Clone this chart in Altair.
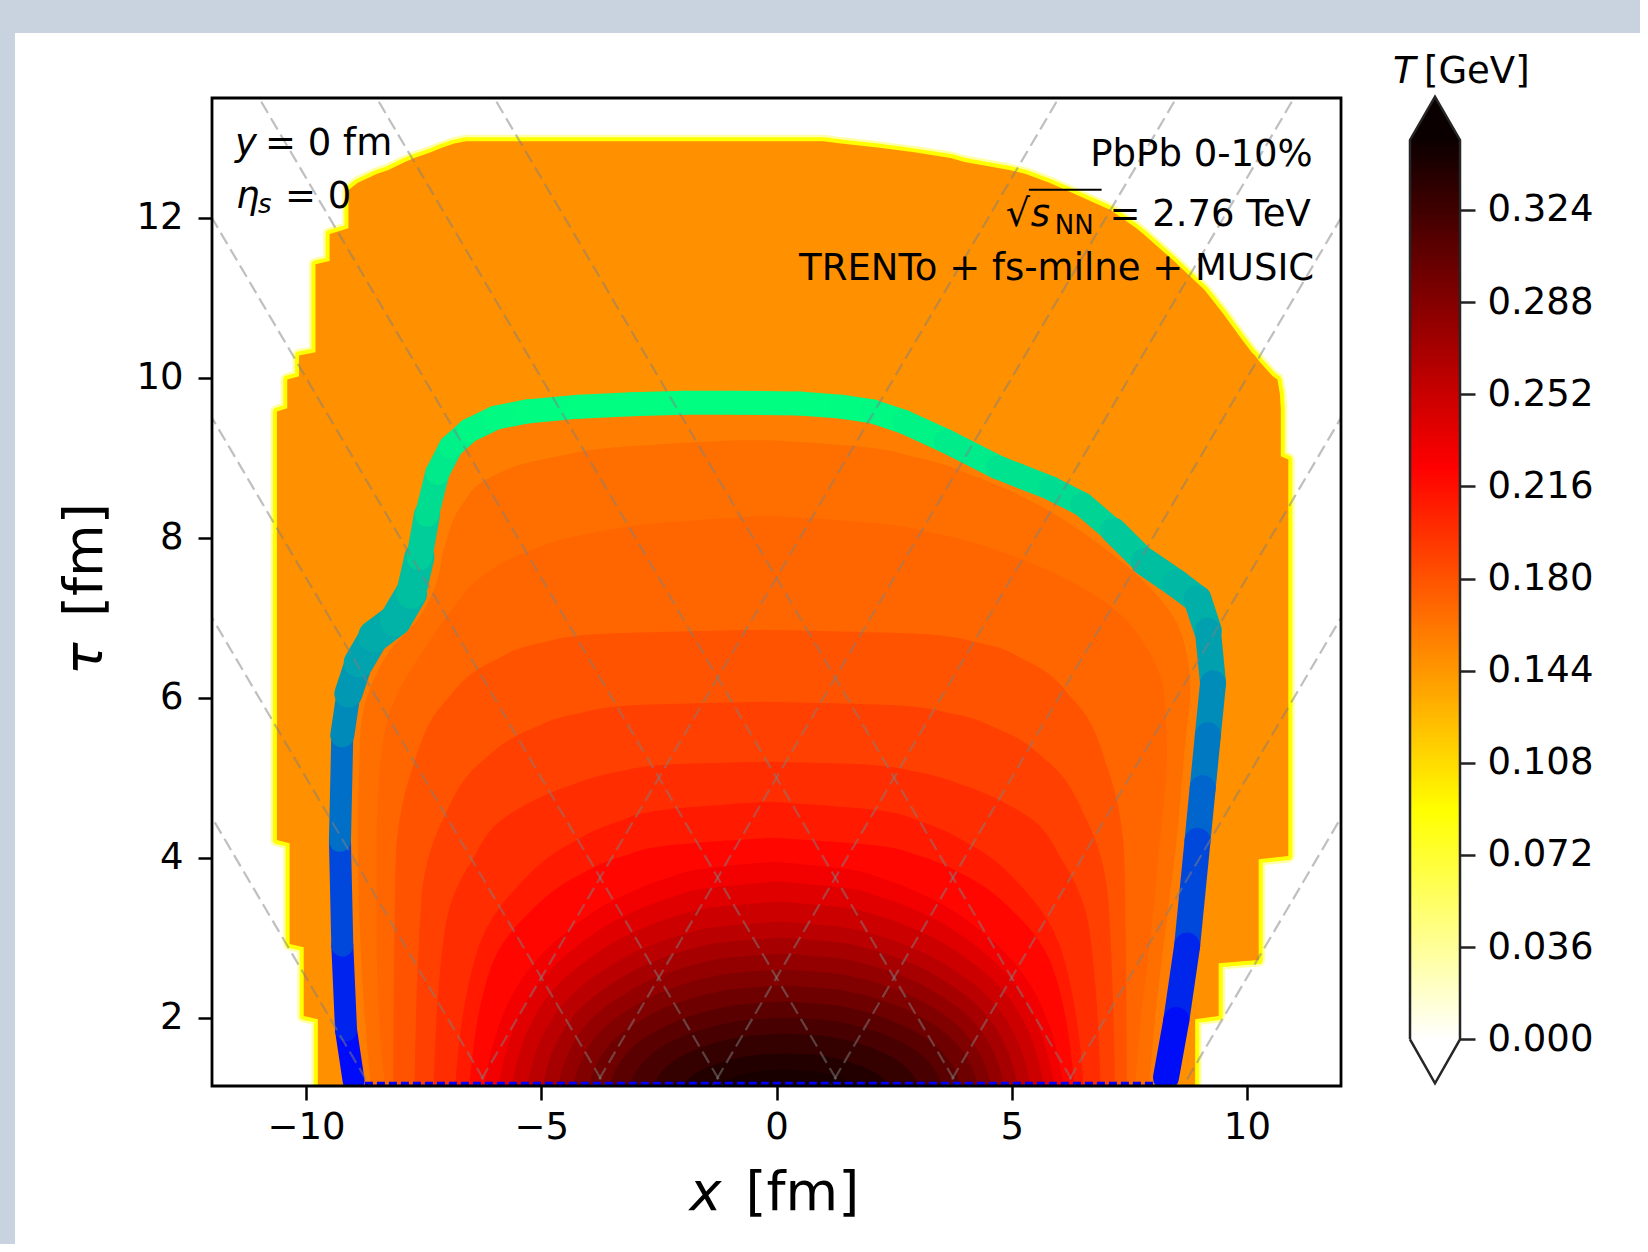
import altair as alt
import pandas as pd

FONT = "DejaVu Sans"

# ---------------- axes ----------------
X_RANGE = [-12.0, 12.0]
TAU_RANGE = [1.144, 13.5]
X_TICKS = [-10, -5, 0, 5, 10]
TAU_TICKS = [2, 4, 6, 8, 10, 12]
CB_TICKS = [0.000, 0.036, 0.072, 0.108, 0.144, 0.180, 0.216, 0.252, 0.288, 0.324]

# ---------------- colour maps ----------------
T_STOPS = [0.0, 0.0894, 0.2235, 0.352]          # hot_r, T in GeV
T_COLORS = ["#ffffff", "#ffff00", "#ff0000", "#0b0000"]
TAU_STOPS = [1.15, 9.7]                          # winter, surface coloured by tau
TAU_COLORS = ["#0000ff", "#00ff80"]
CB_TOP = 0.3513
CB_TIP_TOP = 0.3682
CB_TIP_BOTTOM = -0.0172
CB_RANGE = [-0.01824, 0.3677]

# ---------------- outer edge of the fluid (T ~ 0.148 GeV) ----------------
OUTER_T = 0.148
OUTER_TAU = [1.0, 1.98, 2.02, 2.68, 2.72, 2.88, 2.92, 3.98, 4.02, 4.18, 4.22, 8.98, 9.02,
             9.58, 9.62, 9.8, 9.98, 10.02, 10.2, 10.28, 10.32, 10.5, 10.8, 11.1, 11.42,
             11.46, 11.8, 11.87, 12.1, 12.35, 12.44, 12.55, 12.6, 12.7, 12.75, 12.82,
             12.88, 12.93, 12.96]
OUTER_XL = [-9.75, -9.75, -10.05, -10.05, -10.05, -10.05, -10.35, -10.35, -10.35, -10.35,
            -10.62, -10.62, -10.62, -10.62, -10.4, -10.4, -10.4, -10.15, -10.15, -10.15,
            -9.8, -9.8, -9.8, -9.8, -9.8, -9.5, -9.5, -9.1, -9.1, -9.1, -8.9, -8.5, -8.25,
            -7.9, -7.7, -7.35, -7.1, -6.85, -6.6]
OUTER_XR = [8.9, 8.9, 9.4, 9.4, 10.25, 10.25, 10.25, 10.25, 10.88, 10.88, 10.88, 10.88,
            10.72, 10.72, 10.72, 10.7, 10.65, 10.55, 10.27, 10.17, 10.1, 9.87, 9.5, 9.1,
            8.52, 8.45, 7.8, 7.65, 7.1, 6.15, 5.8, 5.3, 4.95, 4.0, 3.7, 2.93, 2.15, 1.37, 1.0]

# ---------------- isotherms following the freeze-out surface ----------------
ISO158_T = 0.158
ISO158_TAU = [1.0, 1.25, 1.9, 2.9, 4.2, 5.5, 6.05, 6.45, 6.8, 7.0, 7.25, 7.45, 7.7, 8.1,
              8.4, 8.62, 8.88, 9.15, 9.34, 9.45, 9.5, 9.58, 9.64, 9.67, 9.69]
ISO158_XL = [-8.98, -9.0, -9.15, -9.23, -9.28, -9.23, -9.1, -8.88, -8.5, -8.1, -7.8, -7.7,
             -7.6, -7.47, -7.38, -7.28, -7.12, -6.9, -6.54, -6.2, -5.98, -5.31, -4.2, -3.08,
             -1.97]
ISO158_XR = [8.26, 8.28, 8.45, 8.65, 8.9, 9.1, 9.22, 9.25, 9.17, 9.05, 8.9, 8.45, 7.83,
             7.16, 6.5, 5.83, 4.71, 3.75, 3.0, 2.71, 2.5, 2.04, 1.37, 0.9, 0.48]

ISO165_T = 0.165
ISO165_TAU = [1.0, 2.0, 3.0, 4.2, 5.5, 6.1, 6.6, 7.0, 7.4, 7.9, 8.4, 8.75, 9.0, 9.15, 9.22]
ISO165_XL = [-8.6, -8.75, -8.85, -8.9, -8.85, -8.65, -8.2, -7.6, -7.25, -7.05, -6.7, -6.1,
             -4.8, -3.0, -0.9]
ISO165_XR = [7.9, 8.05, 8.25, 8.5, 8.7, 8.8, 8.7, 8.45, 7.9, 6.9, 5.6, 4.3, 3.0, 1.6, -0.1]

ISO170_T = 0.170
ISO170_TAU = [1.0, 2.0, 3.0, 4.2, 5.3, 6.0, 6.6, 7.1, 7.5, 7.8, 8.05, 8.2, 8.27]
ISO170_XL = [-8.3, -8.45, -8.5, -8.5, -8.4, -8.1, -7.5, -6.9, -6.3, -5.4, -4.0, -2.2, -0.4]
ISO170_XR = [7.6, 7.75, 7.95, 8.15, 8.3, 8.25, 7.9, 7.2, 6.1, 4.9, 3.4, 1.8, 0.0]

# ---------------- dome-shaped isotherms: (T, tau rows, half widths, centre) ----------------
DOMES = [
    (0.180, [1.0, 3.9, 5.1, 5.95, 6.45, 6.68, 6.79, 6.85], [7.8, 7.75, 7.4, 6.7, 5.7, 4.7, 3.6, 0.0], -0.35),
    (0.190, [1.0, 3.475, 4.465, 5.21, 5.6, 5.8, 5.9, 5.95], [7.45, 7.3, 6.85, 6.0, 5.0, 4.0, 2.94, 0.0], -0.25),
    (0.200, [1.0, 3.1, 3.94, 4.57, 4.9, 5.07, 5.16, 5.2], [7.1, 6.85, 6.3, 5.4, 4.2, 3.2, 2.24, 0.0], -0.2),
    (0.210, [1.0, 2.85, 3.59, 4.145, 4.44, 4.59, 4.7], [6.7, 6.2, 5.43, 4.32, 3.27, 2.35, 0.0], -0.15),
    (0.220, [1.0, 2.625, 3.275, 3.76, 4.02, 4.15, 4.25], [6.45, 5.97, 5.22, 4.16, 3.15, 2.26, 0.0], -0.1),
    (0.230, [1.0, 2.475, 3.065, 3.5075, 3.7435, 3.8615, 3.95], [6.2, 5.37, 4.43, 3.27, 2.28, 1.51, 0.0], -0.05),
    (0.240, [1.0, 2.35, 2.89, 3.295, 3.511, 3.619, 3.7], [5.95, 5.15, 4.25, 3.14, 2.19, 1.45, 0.0], 0.0),
    (0.250, [1.0, 2.225, 2.715, 3.0825, 3.2785, 3.3765, 3.45], [5.7, 4.94, 4.07, 3.0, 2.1, 1.39, 0.0], 0.03),
    (0.260, [1.0, 2.1, 2.54, 2.87, 3.046, 3.134, 3.2], [5.4, 4.68, 3.86, 2.85, 1.99, 1.31, 0.0], 0.05),
    (0.270, [1.0, 2.0, 2.4, 2.7, 2.86, 2.94, 3.0], [5.1, 4.42, 3.64, 2.69, 1.88, 1.24, 0.0], 0.08),
    (0.280, [1.0, 1.9, 2.26, 2.53, 2.674, 2.746, 2.8], [4.8, 4.16, 3.43, 2.53, 1.77, 1.17, 0.0], 0.1),
    (0.290, [1.0, 1.8, 2.12, 2.36, 2.488, 2.552, 2.6], [4.5, 3.9, 3.21, 2.37, 1.66, 1.09, 0.0], 0.12),
    (0.300, [1.0, 1.7, 1.98, 2.19, 2.302, 2.358, 2.4], [4.2, 3.64, 3.0, 2.21, 1.55, 1.02, 0.0], 0.15),
    (0.310, [1.0, 1.6, 1.84, 2.02, 2.116, 2.164, 2.2], [3.8, 3.29, 2.71, 2.0, 1.4, 0.92, 0.0], 0.18),
    (0.320, [1.0, 1.5, 1.7, 1.85, 1.93, 1.97, 2.0], [3.4, 2.94, 2.43, 1.79, 1.25, 0.83, 0.0], 0.2),
    (0.330, [1.0, 1.4, 1.56, 1.68, 1.744, 1.776, 1.8], [2.9, 2.51, 2.07, 1.53, 1.07, 0.7, 0.0], 0.2),
    (0.340, [1.0, 1.275, 1.385, 1.4675, 1.5115, 1.5335, 1.55], [2.3, 1.99, 1.64, 1.21, 0.85, 0.56, 0.0], 0.2),
    (0.345, [1.0, 1.175, 1.245, 1.2975, 1.3255, 1.3395, 1.35], [1.6, 1.39, 1.14, 0.84, 0.59, 0.39, 0.0], 0.2),
]

# ---------------- freeze-out surface (centre line of the band) ----------------
SURF_X = [-8.99, -9.15, -9.23, -9.28, -9.23, -9.10, -8.88, -8.55, -8.10, -7.77, -7.59, -7.43,
          -7.21, -6.92, -6.54, -5.98, -5.31, -4.20, -3.08, -1.97, -0.86, 0.48, 1.37, 2.04,
          2.71, 3.60, 4.71, 5.83, 6.50, 7.16, 7.83, 8.50, 8.95, 9.17, 9.28, 9.17, 9.06, 8.95,
          8.73, 8.50, 8.28]
SURF_TAU = [1.21, 1.84, 2.90, 4.21, 5.53, 6.05, 6.44, 6.77, 6.97, 7.30, 7.76, 8.29, 8.81,
            9.14, 9.34, 9.50, 9.58, 9.64, 9.67, 9.69, 9.69, 9.68, 9.64, 9.58, 9.45, 9.21,
            8.88, 8.62, 8.42, 8.09, 7.70, 7.43, 7.23, 6.84, 6.18, 5.53, 4.87, 4.21, 2.90,
            1.97, 1.25]
SURF_W = [22, 22, 22, 22, 24, 28, 30, 32, 32, 30, 26, 24, 24, 24, 24, 24, 24, 24, 24, 24,
          24, 24, 24, 24, 24, 24, 24, 24, 24, 26, 28, 28, 28, 26, 26, 26, 26, 26, 26, 26]
# initial surface at tau0 (dotted)
T0_X = [-8.75, 8.1]
T0_TAU = 1.165

# ---------------- light-cone guide lines (cones from points on the x axis) ----------------
CONE_X0 = [-7.5, -5.0, -2.5, 0.0, 2.5, 5.0, 7.5]
CONE_TAU_END = 15.0

# ---------------- scales & axes ----------------
XS = alt.Scale(domain=X_RANGE, nice=False, zero=False)
TS = alt.Scale(domain=TAU_RANGE, nice=False, zero=False)
FILL_SCALE = alt.Scale(domain=T_STOPS, range=T_COLORS, interpolate="rgb", clamp=True)
STROKE_SCALE = alt.Scale(domain=TAU_STOPS, range=TAU_COLORS, interpolate="rgb", clamp=True)
CBX = alt.Scale(domain=[0, 1], nice=False, zero=False)
CBY = alt.Scale(domain=CB_RANGE, nice=False, zero=False)

AX = dict(title=None, grid=False, domain=False, ticks=True, tickSize=14, tickWidth=2.5,
          tickColor="black", labelFont=FONT, labelFontSize=37, labelColor="black",
          labelOverlap=False, labelFlush=False, zindex=1)
XA = alt.Axis(values=X_TICKS, labelPadding=9, **AX)
TA = alt.Axis(values=TAU_TICKS, labelPadding=15, **AX)
CBA = alt.Axis(orient="right", values=CB_TICKS, format=".3f", title=None, grid=False,
               domain=False, tickSize=15, tickWidth=2.5, tickColor="#222222",
               labelFont=FONT, labelFontSize=37, labelColor="black", labelPadding=12,
               labelOverlap=False, labelFlush=False, zindex=1)


def region(tau, xl, xr, T, interp, **mark):
    df = pd.DataFrame({"tau": tau, "xl": xl, "xr": xr, "T": [T] * len(tau)})
    return alt.Chart(df).mark_area(orient="horizontal", interpolate=interp, clip=True, **mark).encode(
        y=alt.Y("tau:Q", scale=TS, axis=TA),
        x=alt.X("xl:Q", scale=XS, axis=XA, stack=False),
        x2="xr:Q",
        fill=alt.Fill("T:Q", scale=FILL_SCALE, legend=None),
    )


def txt(x, tau, s, size=37, style="normal", align="left", dx=0, dy=0, angle=0):
    df = pd.DataFrame({"x": [x], "tau": [tau], "label": [s]})
    props = dict(font=FONT, fontSize=size, fontStyle=style, align=align,
                 baseline="alphabetic", dx=dx, dy=dy, color="black")
    if angle:
        props["angle"] = angle
    return alt.Chart(df).mark_text(**props).encode(
        x=alt.X("x:Q", scale=XS, axis=XA),
        y=alt.Y("tau:Q", scale=TS, axis=TA),
        text="label:N",
    )


# white card behind the figure
card = alt.Chart(pd.DataFrame({"k": [0]})).mark_rect(color="white").encode(
    x=alt.value(-197), x2=alt.value(1428), y=alt.value(-65), y2=alt.value(1146))

outer_glow = region(OUTER_TAU, OUTER_XL, OUTER_XR, OUTER_T, "linear",
                    stroke="#ffffa8", strokeWidth=13, strokeJoin="round")
outer_yellow = region(OUTER_TAU, OUTER_XL, OUTER_XR, OUTER_T, "linear",
                      stroke="#ffff00", strokeWidth=8, strokeJoin="round")
outer_fill = region(OUTER_TAU, OUTER_XL, OUTER_XR, OUTER_T, "linear")

isos = [
    region(ISO158_TAU, ISO158_XL, ISO158_XR, ISO158_T, "linear"),
    region(ISO165_TAU, ISO165_XL, ISO165_XR, ISO165_T, "monotone"),
    region(ISO170_TAU, ISO170_XL, ISO170_XR, ISO170_T, "monotone"),
]
for T, tau, hw, c in DOMES:
    isos.append(region(tau, [round(c - h, 3) for h in hw], [round(c + h, 3) for h in hw], T, "monotone"))

# dotted initial surface
t0 = alt.Chart(pd.DataFrame({"x": [T0_X[0]], "x2": [T0_X[1]], "tau": [T0_TAU], "tm": [TAU_STOPS[0]]})).mark_rule(
    strokeDash=[8, 4], strokeWidth=5, clip=True).encode(
    x=alt.X("x:Q", scale=XS, axis=XA), x2="x2:Q", y=alt.Y("tau:Q", scale=TS, axis=TA),
    stroke=alt.Stroke("tm:Q", scale=STROKE_SCALE, legend=None))

# freeze-out band
seg = []
for i in range(len(SURF_X) - 1):
    seg.append({"x": SURF_X[i], "tau": SURF_TAU[i], "x2": SURF_X[i + 1], "tau2": SURF_TAU[i + 1],
                "tm": (SURF_TAU[i] + SURF_TAU[i + 1]) / 2, "w": SURF_W[i]})
band = alt.Chart(pd.DataFrame(seg)).mark_rule(strokeCap="round", clip=True).encode(
    x=alt.X("x:Q", scale=XS, axis=XA), y=alt.Y("tau:Q", scale=TS, axis=TA),
    x2="x2:Q", y2="tau2:Q",
    stroke=alt.Stroke("tm:Q", scale=STROKE_SCALE, legend=None),
    strokeWidth=alt.StrokeWidth("w:Q", scale=None, legend=None))

# light cones
cone = []
for x0 in CONE_X0:
    for s in (1, -1):
        cone.append({"x": x0, "tau": 0.0, "x2": x0 + s * CONE_TAU_END, "tau2": CONE_TAU_END})
cones = alt.Chart(pd.DataFrame(cone)).mark_rule(
    color="#808080", opacity=0.5, strokeWidth=2.2, strokeDash=[13, 6], clip=True).encode(
    x=alt.X("x:Q", scale=XS, axis=XA), y=alt.Y("tau:Q", scale=TS, axis=TA),
    x2="x2:Q", y2="tau2:Q")

frame = alt.Chart(pd.DataFrame({"x": [X_RANGE[0]], "x2": [X_RANGE[1]],
                                "tau": [TAU_RANGE[0]], "tau2": [TAU_RANGE[1]]})).mark_rect(
    fill="transparent", stroke="black", strokeWidth=2.8).encode(
    x=alt.X("x:Q", scale=XS, axis=XA), x2="x2:Q",
    y=alt.Y("tau:Q", scale=TS, axis=TA), y2="tau2:Q")

overline = alt.Chart(pd.DataFrame({"x": [5.364], "x2": [6.911], "tau": [12.354]})).mark_rule(
    color="black", strokeWidth=2).encode(
    x=alt.X("x:Q", scale=XS, axis=XA), x2="x2:Q", y=alt.Y("tau:Q", scale=TS, axis=TA))

texts = [
    txt(-11.51, 12.79, "y", style="italic"),
    txt(-11.51, 12.79, "= 0 fm", dx=30),
    txt(-11.51, 12.13, "η", style="italic", dx=1),
    txt(-11.51, 12.13, "s", size=26, style="italic", dx=23, dy=5),
    txt(-11.51, 12.13, "= 0", dx=50),
    txt(11.40, 12.646, "PbPb 0-10%", align="right"),
    txt(11.357, 11.895, "= 2.76 TeV", align="right"),
    txt(11.357, 11.895, "NN", size=26, dx=-256, dy=8),
    txt(11.357, 11.895, "s", style="italic", dx=-280),
    txt(11.357, 11.895, "√", size=38, dx=-305),
    txt(11.43, 11.228, "TRENTo + fs-milne + MUSIC", align="right"),
    txt(0.0, -0.41, "x", size=54, style="italic", dx=-87),
    txt(0.0, -0.41, "[fm]", size=54, dx=-31),
    txt(-14.33, 7.322, "τ", size=54, style="italic", dx=-83, angle=270),
    txt(-14.33, 7.322, "[fm]", size=54, dx=-25, angle=270),
]

main = alt.layer(card, outer_glow, outer_yellow, outer_fill, *isos, t0, band, cones, frame,
                 overline, *texts).properties(width=1129, height=988)

# ---------------- colour bar ----------------
CB_LEVELS = [i / 1000 for i in range(352)]
cb_df = pd.DataFrame({"lo": CB_LEVELS,
                      "hi": [min(v + 0.0013, CB_TOP) for v in CB_LEVELS],
                      "T": [v + 0.0005 for v in CB_LEVELS],
                      "x": [0.0] * len(CB_LEVELS), "x2": [1.0] * len(CB_LEVELS)})
bar = alt.Chart(cb_df).mark_rect().encode(
    x=alt.X("x:Q", scale=CBX, axis=None), x2="x2:Q",
    y=alt.Y("lo:Q", scale=CBY, axis=CBA), y2="hi:Q",
    fill=alt.Fill("T:Q", scale=FILL_SCALE, legend=None))

tri_top = alt.Chart(pd.DataFrame({"x": [0, 0.5, 1], "y": [CB_TOP, CB_TIP_TOP, CB_TOP],
                                  "y2": [CB_TOP] * 3, "T": [T_STOPS[-1]] * 3})).mark_area(
    interpolate="linear").encode(
    x=alt.X("x:Q", scale=CBX, axis=None), y=alt.Y("y:Q", scale=CBY, axis=CBA), y2="y2:Q",
    fill=alt.Fill("T:Q", scale=FILL_SCALE, legend=None))
tri_bot = alt.Chart(pd.DataFrame({"x": [0, 0.5, 1], "y": [0.0, CB_TIP_BOTTOM, 0.0],
                                  "y2": [0.0] * 3, "T": [T_STOPS[0]] * 3})).mark_area(
    interpolate="linear").encode(
    x=alt.X("x:Q", scale=CBX, axis=None), y=alt.Y("y:Q", scale=CBY, axis=CBA), y2="y2:Q",
    fill=alt.Fill("T:Q", scale=FILL_SCALE, legend=None))
outline = alt.Chart(pd.DataFrame({"i": list(range(7)),
                                  "x": [0, 0, 0.5, 1, 1, 0.5, 0],
                                  "y": [0.0, CB_TOP, CB_TIP_TOP, CB_TOP, 0.0, CB_TIP_BOTTOM, 0.0]})).mark_line(
    color="#262626", strokeWidth=2.5).encode(
    x=alt.X("x:Q", scale=CBX, axis=None), y=alt.Y("y:Q", scale=CBY, axis=CBA), order="i:Q")


def cbtxt(s, style, dx):
    return alt.Chart(pd.DataFrame({"x": [0.5], "y": [0.3736], "label": [s]})).mark_text(
        font=FONT, fontSize=37, fontStyle=style, align="left", baseline="alphabetic",
        dx=dx, color="black").encode(
        x=alt.X("x:Q", scale=CBX, axis=None), y=alt.Y("y:Q", scale=CBY, axis=CBA), text="label:N")


cbar = alt.layer(bar, tri_top, tri_bot, outline, cbtxt("T", "italic", -42),
                 cbtxt("[GeV]", "normal", -11)).properties(width=50, height=988)

chart = alt.hconcat(main, cbar, spacing=69, bounds="flush").properties(
    padding={"left": 15, "top": 33, "right": 0, "bottom": 0},
    background="#c9d3df",
).configure_view(strokeWidth=0)

chart.save("out.html", embed_options={"renderer": "svg", "actions": False})
